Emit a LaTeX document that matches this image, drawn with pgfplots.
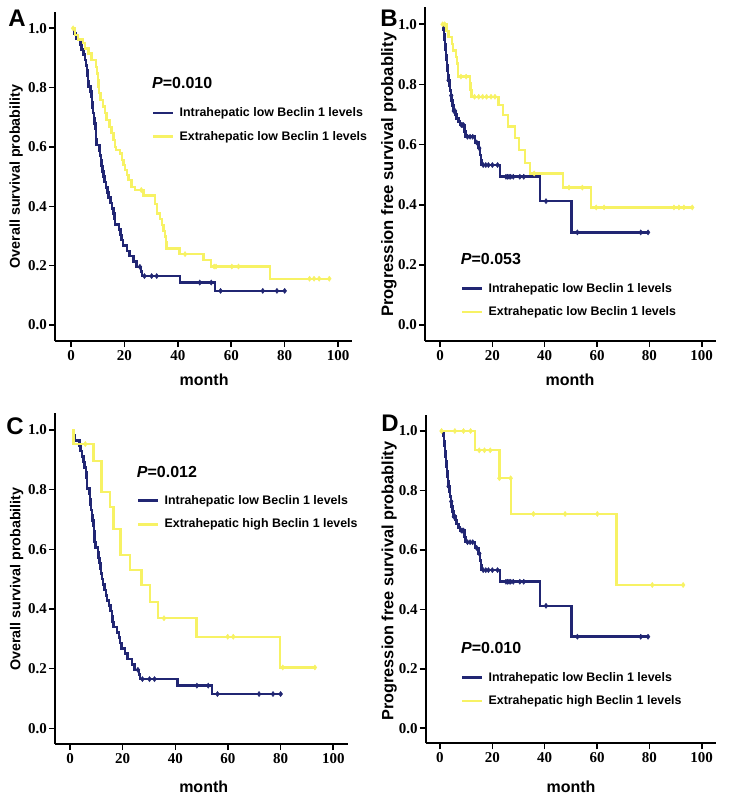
\documentclass[border=0pt]{standalone}
\usepackage{fontspec}
\setmainfont{Liberation Sans}
\newfontfamily\tickserif{Liberation Serif}
\usepackage{pgfplots}
\pgfplotsset{compat=1.18}
\definecolor{navy}{RGB}{33,38,115}
\definecolor{ylw}{RGB}{247,242,100}

\pgfplotsset{
 km/.style={
  scale only axis,
  axis x line*=bottom, axis y line*=left,
  axis line style={line width=2pt,-},
  xtick={0,20,40,60,80,100}, xticklabels={0,20,40,60,80,100},
  ytick={0,0.2,0.4,0.6,0.8,1.0}, yticklabels={0.0,0.2,0.4,0.6,0.8,1.0},
  tick style={line width=1.6pt, black},
  major tick length=6pt,
  tick align=outside,
  tick label style={font=\fontsize{15}{15}\selectfont\tickserif\bfseries},
  y tick label style={inner sep=2pt},
  xlabel=month,
  xlabel style={font=\fontsize{16}{16}\selectfont\bfseries, anchor=center},
  ylabel style={font=\fontsize{14.3}{14.3}\selectfont\bfseries, anchor=center},
  legend style={draw=none, fill=none, inner sep=0pt, outer sep=0pt, row sep=13pt,
    font=\fontsize{12.4}{12.4}\selectfont\bfseries, nodes={inner sep=0pt},
    /tikz/every odd column/.append style={column sep=5pt}},
  legend cell align=left,
  legend image code/.code={\draw[#1, line width=2.6pt] (0pt,0pt) -- (20pt,0pt);},
  clip=false,
 },
 navyline/.style={navy, line width=2.6pt, const plot},
 ylwline/.style={ylw, line width=2.3pt, const plot},
 cens/.style={only marks, mark=diamond*, mark size=2.6pt, forget plot},
}

\begin{document}
\begin{tikzpicture}
\path[use as bounding box] (0,0) rectangle (728pt,-800pt);

% ---------------- Panel A ----------------
\begin{axis}[km, at={(55pt,-341pt)}, anchor=south west,
  width=297pt, height=329pt,
  xmin=-5.99, xmax=105.2, ymin=-0.0539, ymax=1.0549,
  ylabel={Overall survival probability},
  ylabel style={at={(axis description cs:-0.131,0.5)}},
  xlabel style={at={(axis description cs:0.502,-0.119)}},
  legend style={at={(rel axis cs:0.3266,0.6574)}, anchor=west}]
\addplot[navyline] coordinates {
(1.0,1.000) (1.2,0.982) (1.8,0.964) (3.5,0.946) (4.0,0.929) (4.6,0.911) (5.2,0.893)
(5.6,0.875) (6.0,0.857) (6.2,0.839) (6.4,0.821) (6.5,0.804) (7.4,0.786) (7.6,0.768)
(7.8,0.750) (8.0,0.732) (8.3,0.714) (8.6,0.696) (8.9,0.679) (9.1,0.661) (9.3,0.643)
(9.4,0.625) (9.6,0.607) (10.6,0.589) (10.9,0.571) (11.2,0.554) (11.5,0.536) (11.8,0.518)
(12.1,0.500) (12.6,0.482) (13.1,0.464) (13.6,0.446) (14.0,0.429) (14.8,0.411) (15.3,0.393)
(15.9,0.375) (16.2,0.357) (16.5,0.339) (17.9,0.321) (18.6,0.304) (19.0,0.286) (19.5,0.268)
(20.9,0.250) (21.9,0.232) (23.5,0.214) (24.6,0.196) (26.2,0.180) (26.6,0.165) (40.8,0.143)
(53.9,0.115) (80.0,0.115)};
\addlegendentry{Intrahepatic low Beclin 1 levels}
\addplot[ylwline] coordinates {
(0.8,1.000) (1.5,0.978) (2.7,0.962) (4.4,0.950) (5.2,0.932) (6.5,0.915) (7.7,0.893)
(9.4,0.870) (9.7,0.848) (10.0,0.826) (10.3,0.803) (10.6,0.781) (11.0,0.758) (11.9,0.736)
(12.7,0.714) (13.3,0.691) (14.4,0.668) (15.2,0.646) (15.9,0.624) (16.5,0.601) (16.9,0.590)
(18.4,0.578) (19.0,0.556) (19.6,0.539) (20.2,0.522) (20.9,0.505) (21.5,0.489) (22.7,0.466)
(24.0,0.455) (27.1,0.436) (31.5,0.407) (32.1,0.376) (33.3,0.357) (34.0,0.337) (34.6,0.318)
(35.2,0.298) (35.5,0.278) (35.8,0.258) (40.6,0.239) (49.6,0.219) (52.3,0.197) (74.5,0.156)
(96.7,0.156)};
\addlegendentry{Extrahepatic low Beclin 1 levels}
\addplot[cens, navy] coordinates {(25.8,0.196) (27.5,0.165) (30.2,0.165) (32.1,0.165)
(48.2,0.143) (52.5,0.143) (56.0,0.115) (71.8,0.115) (77.1,0.115) (80.0,0.115)};
\addplot[cens, ylw] coordinates {(0.8,1.0) (26.3,0.455) (42.7,0.239) (53.6,0.197) (54.3,0.197)
(60.2,0.197) (62.7,0.197) (89.3,0.156) (91.0,0.156) (92.9,0.156) (96.7,0.156)};
\node[anchor=west, inner sep=0pt, font=\fontsize{16}{16}\selectfont\bfseries]
  at (rel axis cs:0.3266,0.7842) {\textit{P}=0.010};
\end{axis}

% ---------------- Panel B ----------------
\begin{axis}[km, at={(425pt,-340.7pt)}, anchor=south west,
  width=290.7pt, height=334pt,
  xmin=-5.73, xmax=105.35, ymin=-0.0522, ymax=1.0585,
  ylabel={Progression free survival probablity},
  ylabel style={at={(axis description cs:-0.124,0.497)}, font=\fontsize{16.6}{16.6}\selectfont\bfseries},
  xlabel style={at={(axis description cs:0.499,-0.118)}},
  legend style={at={(rel axis cs:0.1238,0.121)}, anchor=west}]
\addplot[navyline] coordinates {
(1.0,1.000) (1.3,0.983) (1.5,0.966) (1.7,0.949) (1.9,0.932) (2.1,0.915) (2.3,0.898)
(2.5,0.881) (2.7,0.864) (2.9,0.847) (3.1,0.831) (3.3,0.814) (3.6,0.797) (3.8,0.780)
(4.2,0.763) (4.5,0.746) (4.8,0.729) (5.1,0.712) (6.0,0.700) (6.4,0.687) (7.0,0.676)
(7.6,0.665) (9.4,0.643) (9.8,0.626) (13.4,0.607) (14.6,0.588) (15.3,0.565) (15.6,0.549)
(15.9,0.532) (22.9,0.493) (38.2,0.412) (50.3,0.308) (80.0,0.308)};
\addlegendentry{Intrahepatic low Beclin 1 levels}
\addplot[ylwline] coordinates {
(1.0,1.000) (2.5,0.978) (3.2,0.957) (4.5,0.935) (5.1,0.913) (6.1,0.891) (6.5,0.870)
(6.8,0.848) (7.0,0.826) (11.5,0.804) (11.7,0.781) (12.0,0.759) (22.3,0.732) (24.2,0.698)
(26.1,0.660) (28.7,0.621) (30.3,0.582) (32.5,0.538) (34.4,0.504) (47.0,0.457) (57.6,0.391)
(96.4,0.391)};
\addlegendentry{Extrahepatic low Beclin 1 levels}
\addplot[cens, navy] coordinates {(3.3,0.814) (4.3,0.763) (5.3,0.712) (5.7,0.712) (8.2,0.665)
(8.7,0.665) (9.0,0.665) (10.5,0.626) (11.5,0.626) (12.5,0.626) (14.0,0.607) (15.0,0.588)
(16.5,0.532) (17.5,0.532) (18.5,0.532) (20.0,0.532) (22.0,0.532) (25.2,0.493) (25.8,0.493)
(26.4,0.493) (27.0,0.493) (28.0,0.493) (30.5,0.493) (32.0,0.493) (40.5,0.412) (52.5,0.308)
(76.7,0.308) (79.5,0.308)};
\addplot[cens, ylw] coordinates {(1.0,1.0) (1.8,1.0) (8.0,0.826) (10.0,0.826) (13.2,0.759)
(14.8,0.759) (16.3,0.759) (17.8,0.759) (19.5,0.759) (21.0,0.759) (36.0,0.504) (49.3,0.457)
(54.4,0.457) (59.7,0.391) (62.7,0.391) (89.4,0.391) (91.3,0.391) (93.2,0.391) (96.4,0.391)};
\node[anchor=west, inner sep=0pt, font=\fontsize{16}{16}\selectfont\bfseries]
  at (rel axis cs:0.1228,0.2437) {\textit{P}=0.053};
\end{axis}

% ---------------- Panel C ----------------
\begin{axis}[km, at={(55pt,-744pt)}, anchor=south west,
  width=293.3pt, height=331pt,
  xmin=-5.70, xmax=105.7, ymin=-0.0526, ymax=1.057,
  ylabel={Overall survival probability},
  ylabel style={at={(axis description cs:-0.131,0.498)}},
  xlabel style={at={(axis description cs:0.507,-0.129)}},
  legend style={at={(rel axis cs:0.2796,0.6994)}, anchor=west}]
\addplot[navyline] coordinates {
(1.0,1.000) (1.2,0.982) (1.8,0.964) (3.5,0.946) (4.0,0.929) (4.6,0.911) (5.2,0.893)
(5.6,0.875) (6.0,0.857) (6.2,0.839) (6.4,0.821) (6.5,0.804) (7.4,0.786) (7.6,0.768)
(7.8,0.750) (8.0,0.732) (8.3,0.714) (8.6,0.696) (8.9,0.679) (9.1,0.661) (9.3,0.643)
(9.4,0.625) (9.6,0.607) (10.6,0.589) (10.9,0.571) (11.2,0.554) (11.5,0.536) (11.8,0.518)
(12.1,0.500) (12.6,0.482) (13.1,0.464) (13.6,0.446) (14.0,0.429) (14.8,0.411) (15.3,0.393)
(15.9,0.375) (16.2,0.357) (16.5,0.339) (17.9,0.321) (18.6,0.304) (19.0,0.286) (19.5,0.268)
(20.9,0.250) (21.9,0.232) (23.5,0.214) (24.6,0.196) (26.2,0.180) (26.6,0.165) (40.8,0.143)
(53.9,0.115) (80.0,0.115)};
\addlegendentry{Intrahepatic low Beclin 1 levels}
\addplot[ylwline] coordinates {
(0.8,1.000) (1.3,0.953) (8.9,0.897) (12.0,0.793) (15.2,0.741) (16.5,0.667) (19.2,0.581)
(22.8,0.531) (27.2,0.480) (30.4,0.424) (33.5,0.369) (48.1,0.307) (79.8,0.204) (93.0,0.204)};
\addlegendentry{Extrahepatic high Beclin 1 levels}
\addplot[cens, navy] coordinates {(25.8,0.196) (27.5,0.165) (30.2,0.165) (32.1,0.165)
(48.2,0.143) (52.5,0.143) (56.0,0.115) (71.8,0.115) (77.1,0.115) (80.0,0.115)};
\addplot[cens, ylw] coordinates {(5.8,0.953) (35.7,0.369) (59.9,0.307) (62.0,0.307)
(80.8,0.204) (93.0,0.204)};
\node[anchor=west, inner sep=0pt, font=\fontsize{16}{16}\selectfont\bfseries]
  at (rel axis cs:0.2786,0.8227) {\textit{P}=0.012};
\end{axis}

% ---------------- Panel D ----------------
\begin{axis}[km, at={(425.7pt,-743.3pt)}, anchor=south west,
  width=290pt, height=328.3pt,
  xmin=-5.46, xmax=105.35, ymin=-0.0505, ymax=1.0538,
  ylabel={Progression free survival probablity},
  ylabel style={at={(axis description cs:-0.126,0.494)}, font=\fontsize{16.3}{16.3}\selectfont\bfseries},
  xlabel style={at={(axis description cs:0.501,-0.132)}},
  legend style={at={(rel axis cs:0.1217,0.1648)}, anchor=west}]
\addplot[navyline] coordinates {
(1.0,1.000) (1.3,0.983) (1.5,0.966) (1.7,0.949) (1.9,0.932) (2.1,0.915) (2.3,0.898)
(2.5,0.881) (2.7,0.864) (2.9,0.847) (3.1,0.831) (3.3,0.814) (3.6,0.797) (3.8,0.780)
(4.2,0.763) (4.5,0.746) (4.8,0.729) (5.1,0.712) (6.0,0.700) (6.4,0.687) (7.0,0.676)
(7.6,0.665) (9.4,0.643) (9.8,0.626) (13.4,0.607) (14.6,0.588) (15.3,0.565) (15.6,0.549)
(15.9,0.532) (22.9,0.493) (38.2,0.412) (50.3,0.308) (80.0,0.308)};
\addlegendentry{Intrahepatic low Beclin 1 levels}
\addplot[ylwline] coordinates {
(0.6,1.000) (13.4,0.935) (22.7,0.841) (27.2,0.721) (67.4,0.482) (92.9,0.482)};
\addlegendentry{Extrahepatic high Beclin 1 levels}
\addplot[cens, navy] coordinates {(3.3,0.814) (4.3,0.763) (5.3,0.712) (5.7,0.712) (8.2,0.665)
(8.7,0.665) (9.0,0.665) (10.5,0.626) (11.5,0.626) (12.5,0.626) (14.0,0.607) (15.0,0.588)
(16.5,0.532) (17.5,0.532) (18.5,0.532) (20.0,0.532) (22.0,0.532) (25.2,0.493) (25.8,0.493)
(26.4,0.493) (27.0,0.493) (28.0,0.493) (30.5,0.493) (32.0,0.493) (40.5,0.412) (52.5,0.308)
(76.7,0.308) (79.5,0.308)};
\addplot[cens, ylw] coordinates {(0.6,1.0) (5.7,1.0) (9.0,1.0) (11.7,1.0) (15.0,0.935)
(17.0,0.935) (19.2,0.935) (22.7,0.841) (27.0,0.841) (35.7,0.721) (47.8,0.721) (60.1,0.721)
(81.1,0.482) (92.9,0.482)};
\node[anchor=west, inner sep=0pt, font=\fontsize{16}{16}\selectfont\bfseries]
  at (rel axis cs:0.1217,0.2894) {\textit{P}=0.010};
\end{axis}

% panel letters
\node[inner sep=0pt, font=\fontsize{24}{24}\selectfont\bfseries] at (17pt,-18pt) {A};
\node[inner sep=0pt, font=\fontsize{24}{24}\selectfont\bfseries] at (389pt,-18pt) {B};
\node[inner sep=0pt, font=\fontsize{24}{24}\selectfont\bfseries] at (15pt,-426pt) {C};
\node[inner sep=0pt, font=\fontsize{24}{24}\selectfont\bfseries] at (390pt,-423.5pt) {D};
\end{tikzpicture}
\end{document}
